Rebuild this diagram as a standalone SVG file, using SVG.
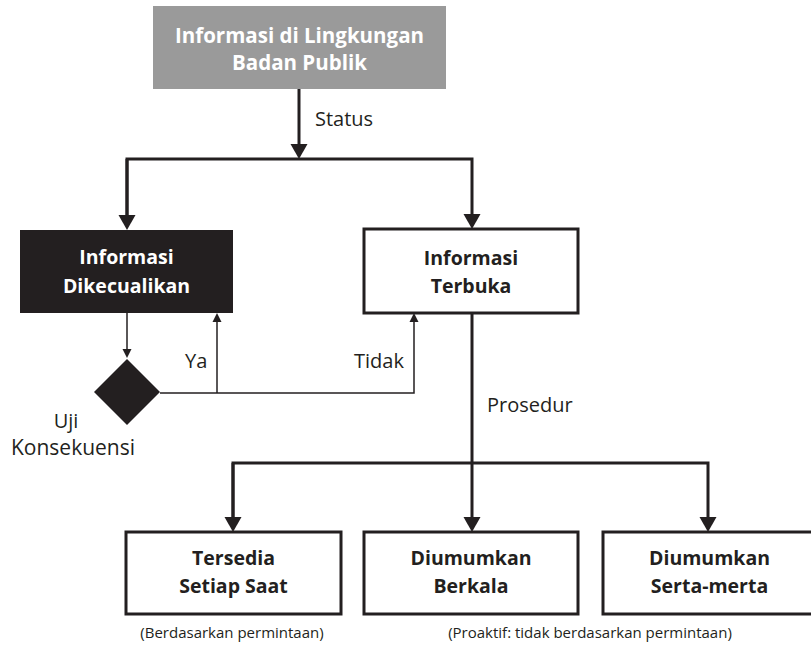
<svg xmlns="http://www.w3.org/2000/svg" width="811" height="645" viewBox="0 0 811 645">
<style>
.bold{font-family:"Open Sans","Noto Sans",sans-serif;font-weight:bold;font-size:19.5px;text-anchor:middle;fill:#231f20}
.w{fill:#ffffff}
.reg{font-family:"Open Sans","Noto Sans",sans-serif;font-size:20px;fill:#231f20}
.cap{font-family:"Open Sans","Noto Sans",sans-serif;font-size:15px;fill:#231f20;text-anchor:middle}
.box{fill:#ffffff;stroke:#231f20;stroke-width:3}
.thick{fill:none;stroke:#231f20;stroke-width:3}
.thin{fill:none;stroke:#231f20;stroke-width:1.5}
</style>
<defs>
<marker id="big" markerUnits="userSpaceOnUse" markerWidth="16" markerHeight="17" refX="0" refY="8.5" orient="auto" overflow="visible">
<path d="M0,0 L15,8.5 L0,17 z" fill="#231f20"/>
</marker>
<marker id="small" markerUnits="userSpaceOnUse" markerWidth="10" markerHeight="10" refX="0" refY="4.5" orient="auto" overflow="visible">
<path d="M0,0 L9,4.5 L0,9 z" fill="#231f20"/>
</marker>
</defs>
<g id="connectors">
<line class="thick" x1="299" y1="89" x2="299" y2="144" marker-end="url(#big)"/>
<polyline class="thick" points="127,215 127,159 472,159 472,214" marker-end="url(#big)"/>
<line class="thick" x1="127" y1="159" x2="127" y2="215" marker-end="url(#big)"/>
<line class="thin" x1="127" y1="313" x2="127" y2="349" marker-end="url(#small)"/>
<polyline class="thin" points="160,393 414,393 414,322" marker-end="url(#small)"/>
<line class="thin" x1="217" y1="393" x2="217" y2="322" marker-end="url(#small)"/>
<line class="thick" x1="472" y1="313" x2="472" y2="517" marker-end="url(#big)"/>
<polyline class="thick" points="233,517 233,463 708,463 708,517" marker-end="url(#big)"/>
<line class="thick" x1="233" y1="463" x2="233" y2="517" marker-end="url(#big)"/>
<text class="reg" x="315" y="126">Status</text>
<text class="reg" x="185" y="368">Ya</text>
<text class="reg" x="354" y="368">Tidak</text>
<text class="reg" x="487" y="412">Prosedur</text>
</g>
<g id="informasi-badan-publik">
<rect x="153" y="6" width="293" height="83" fill="#9a9a9a"/>
<text class="bold w" x="299.5" y="43" style="font-size:20.5px">Informasi di Lingkungan</text>
<text class="bold w" x="299.5" y="70" style="font-size:20.5px">Badan Publik</text>
</g>
<g id="informasi-dikecualikan">
<rect x="20" y="230" width="213" height="83" fill="#231f20"/>
<text class="bold w" x="126.5" y="264">Informasi</text>
<text class="bold w" x="126.5" y="293">Dikecualikan</text>
</g>
<g id="informasi-terbuka">
<rect class="box" x="364" y="229" width="214" height="84"/>
<text class="bold" x="471" y="265">Informasi</text>
<text class="bold" x="471" y="293">Terbuka</text>
</g>
<g id="uji-konsekuensi">
<polygon points="127,359 160,392 127,425 94,392" fill="#231f20"/>
<text class="reg" x="66" y="428" text-anchor="middle">Uji</text>
<text class="reg" x="73" y="455" text-anchor="middle" style="font-size:21px">Konsekuensi</text>
</g>
<g id="tersedia-setiap-saat">
<rect class="box" x="126" y="532" width="215" height="82"/>
<text class="bold" x="233.5" y="565">Tersedia</text>
<text class="bold" x="233.5" y="593">Setiap Saat</text>
<text class="cap" x="232" y="638">(Berdasarkan permintaan)</text>
</g>
<g id="diumumkan-berkala">
<rect class="box" x="364" y="532" width="214" height="82"/>
<text class="bold" x="471" y="565">Diumumkan</text>
<text class="bold" x="471" y="593">Berkala</text>
</g>
<g id="diumumkan-serta-merta">
<rect class="box" x="603" y="532" width="215" height="82"/>
<text class="bold" x="709.5" y="565">Diumumkan</text>
<text class="bold" x="709.5" y="593">Serta-merta</text>
</g>
<g id="caption-proaktif">
<text class="cap" x="590" y="638">(Proaktif: tidak berdasarkan permintaan)</text>
</g>
</svg>
